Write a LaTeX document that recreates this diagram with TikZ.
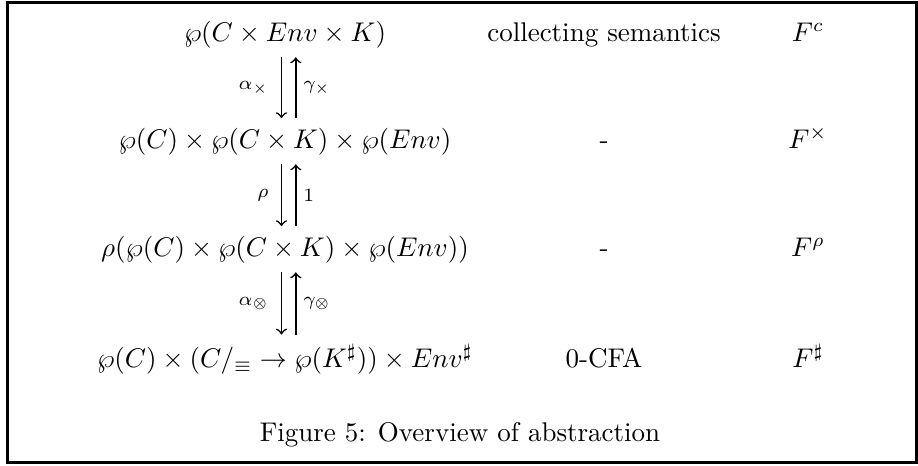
\documentclass[tikz,border=0pt]{standalone}
\usepackage{tikz}

\begin{document}
\begin{tikzpicture}[x=0.3704pt,y=-0.3704pt,
    row/.style={anchor=base},
    lbl/.style={font=\scriptsize,inner sep=2pt},
    arr/.style={->,line width=0.6pt}]
      \useasboundingbox (0,0) rectangle (918,465);

      % Frame
      \draw[line width=1.1pt] (7.5,2.5) rectangle (916.5,462);

      % Domains (left column)
      \node[row] (dc)   at (285,41)  {$\wp(C \times Env \times K)$};
      \node[row] (dx)   at (285,148) {$\wp(C) \times \wp(C \times K) \times \wp(Env)$};
      \node[row] (drho) at (285,256) {$\rho(\wp(C) \times \wp(C \times K) \times \wp(Env))$};
      \node[row] (dsh)  at (285,367) {$\wp(C) \times (C/_{\equiv} \to \wp(K^\sharp)) \times Env^\sharp$};

      % Analysis names
      \node[row] (nc)   at (604,41)  {collecting semantics};
      \node[row] (nx)   at (604,148) {-};
      \node[row] (nrho) at (604,256) {-};
      \node[row] (nsh)  at (604,367) {0-CFA};

      % Transfer functions
      \node[row] (fc)   at (808,41)  {$F^c$};
      \node[row] (fx)   at (808,148) {$F^\times$};
      \node[row] (frho) at (808,256) {$F^\rho$};
      \node[row] (fsh)  at (808,367) {$F^\sharp$};

      % Abstraction / concretisation pairs
      \draw[arr] ([xshift=-1.3pt]dc.south) -- ([xshift=-1.3pt]dx.north)
            node[lbl,midway,left=2.5pt] {$\alpha_\times$};
      \draw[arr] ([xshift=4pt]dx.north) -- ([xshift=4pt]dc.south)
            node[lbl,midway,right=0.5pt] {$\gamma_\times$};

      \draw[arr] ([xshift=-1.3pt]dx.south) -- ([xshift=-1.3pt]drho.north)
            node[lbl,midway,left=2.5pt] {$\rho$};
      \draw[arr] ([xshift=4pt]drho.north) -- ([xshift=4pt]dx.south)
            node[lbl,midway,right=0.5pt] {$1$};

      \draw[arr] ([xshift=-1.3pt]drho.south) -- ([xshift=-1.3pt]dsh.north)
            node[lbl,midway,left=2.5pt] {$\alpha_\otimes$};
      \draw[arr] ([xshift=4pt]dsh.north) -- ([xshift=4pt]drho.south)
            node[lbl,midway,right=0.5pt] {$\gamma_\otimes$};

      % Caption
      \node[row] (cap) at (460,441) {Figure 5: Overview of abstraction};

\end{tikzpicture}
\end{document}
